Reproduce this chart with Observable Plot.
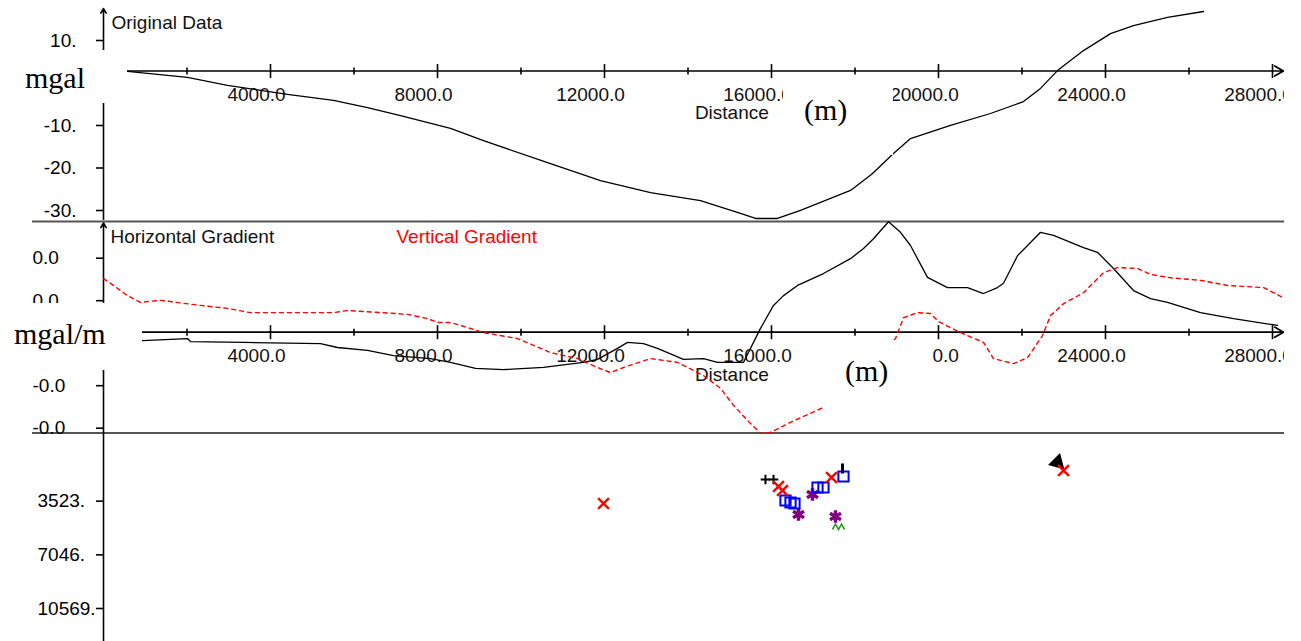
<!DOCTYPE html>
<html><head><meta charset="utf-8">
<script src="https://cdn.jsdelivr.net/npm/d3@7"></script>
<script src="https://cdn.jsdelivr.net/npm/@observablehq/plot@0.6"></script>
<style>
html,body{margin:0;padding:0;background:#fff;}
#wrap{position:relative;width:1301px;height:641px;overflow:hidden;background:#fff;}
#wrap svg{display:block;overflow:hidden !important;}
.box{position:absolute;background:#fff;font-family:"Liberation Serif","Times New Roman",serif;font-size:30px;line-height:30px;color:#000;z-index:5;}
.box span{position:absolute;white-space:nowrap;}
</style></head><body><div id="wrap"></div>
<script>
// ---------- tick values / labels ----------
const xMajorTicks = [4000, 8000, 12000, 16000, 20000, 24000, 28000];
const xMinorTicks = [2000, 6000, 10000, 14000, 18000, 22000, 26000];
const topYTicks = [10, -10, -20, -30];
const midYTicks = [0.002, 0.001, -0.001, -0.002];
const botYTicks = [3523, 7046, 10569];
const axisTitle = "Distance";

// ---------- Original Data (mgal) ----------
const origDist = [0, 575, 2012, 2970, 4407, 5509, 6323, 7114, 8311, 9102, 10707, 11904, 13102, 14299, 15257, 15617, 16144, 16695, 17892, 18400, 18922, 19329, 20287, 21245, 22036, 22443, 22850, 23473, 24120, 24671, 25485, 26347];
const origVal  = [-0.1, -0.1, -1.5, -3.4, -5.5, -6.9, -8.6, -10.5, -13.5, -16.4, -21.8, -25.8, -28.6, -30.5, -33.5, -34.7, -34.7, -32.8, -28.1, -24.3, -19.4, -15.9, -12.8, -10.0, -7.2, -4.1, 0.1, 4.8, 8.8, 10.7, 12.6, 14.0];

// ---------- Horizontal Gradient (mgal/m) ----------
const hgDist = [0, 934, 2012, 2084, 3353, 5198, 5605, 6323, 6946, 7832, 8311, 8910, 9581, 10539, 11497, 11832, 12311, 12551, 12934, 13269, 13892, 14371, 14706, 15329, 15497, 15737, 16048, 16288, 16623, 17245, 17892, 18204, 18443, 18802, 19090, 19329, 19736, 20215, 20694, 21078, 21413, 21557, 21892, 22204, 22443, 22754, 23473, 23808, 24192, 24671, 25078, 25485, 26275, 27066, 28120];
const hgVal  = [-0.00020, -0.00020, -0.00015, -0.00022, -0.00024, -0.00027, -0.00036, -0.00043, -0.00055, -0.00062, -0.00071, -0.00085, -0.00088, -0.00083, -0.00071, -0.00064, -0.00038, -0.00024, -0.00027, -0.00038, -0.00064, -0.00062, -0.00071, -0.00071, -0.00038, 0.00009, 0.00063, 0.00086, 0.00110, 0.00138, 0.00173, 0.00197, 0.00220, 0.00260, 0.00235, 0.00204, 0.00129, 0.00105, 0.00105, 0.00091, 0.00105, 0.00115, 0.00180, 0.00211, 0.00235, 0.00228, 0.00199, 0.00188, 0.00150, 0.00098, 0.00079, 0.00070, 0.00046, 0.00032, 0.00016];

// ---------- Vertical Gradient (mgal/m) ----------
const vgDist = [0, 240, 575, 886, 1054, 1365, 2323, 2970, 3521, 5509, 5844, 7281, 7760, 8000, 8311, 8718, 9102, 9916, 10707, 11353, 11832, 12144, 12455, 13102, 13748, 14371, 14778, 15090, 15497, 15737, 15976, 16455, 17245, 18970, 19162, 19497, 19808, 20000, 20527, 21078, 21317, 21796, 22132, 22491, 22682, 22994, 23473, 23952, 24287, 24766, 25078, 25557, 26275, 26922, 27784, 28239];
const vgVal  = [0.00126, 0.00110, 0.00086, 0.00070, 0.00072, 0.00075, 0.00063, 0.00056, 0.00046, 0.00046, 0.00051, 0.00042, 0.00032, 0.00023, 0.00023, 0.00011, -0.00001, -0.00015, -0.00048, -0.00062, -0.00083, -0.00095, -0.00083, -0.00062, -0.00071, -0.00102, -0.00132, -0.00172, -0.00215, -0.00238, -0.00236, -0.00212, -0.00177, -0.00015, 0.00034, 0.00046, 0.00044, 0.00025, -0.00001, -0.00024, -0.00062, -0.00074, -0.00060, -0.00008, 0.00039, 0.00067, 0.00093, 0.00140, 0.00152, 0.00150, 0.00136, 0.00128, 0.00122, 0.00110, 0.00105, 0.00082];

// ---------- Solutions (distance m, depth m) ----------
const solDist  = [11976, 15856, 16048, 16168, 16263, 16335, 16455, 16551, 16647, 16982, 17102, 17245, 17437, 17724, 17700, 17533, 17605, 22850, 22994];
const solDepth = [4529, 2954, 2954, 3413, 3676, 4332, 4464, 4529, 5251, 3938, 3479, 3479, 2823, 2757, 2232, 5382, 6039, 1838, 2363];
const solKind  = ["times", "plus", "plus", "times", "times", "square", "square", "square", "asterisk", "asterisk", "square", "square", "times", "square", "bar", "asterisk", "chevron", "blob", "times"];

// ---------- helpers ----------
const W = 1284;
const font = "'Liberation Sans', Arial, Helvetica, sans-serif";
const plotStyle = {fontFamily: font, fontSize: "19px", color: "#000", background: "white", overflow: "hidden"};
const xScale = {domain: [0, 28000], range: [103, 1272], axis: null};
const xAxisEnd = 28263;
const vTick = {draw(ctx, size) { const h = Math.sqrt(size / Math.PI); ctx.moveTo(0, -h); ctx.lineTo(0, h); }};
const chevron = {draw(ctx, size) { const h = Math.sqrt(size / Math.PI); ctx.moveTo(-h, h*0.5); ctx.lineTo(-h*0.5, -h*0.4); ctx.lineTo(0, h*0.5); ctx.lineTo(h*0.5, -h*0.4); ctx.lineTo(h, h*0.5); }};
const rows = (xs, ys) => xs.map((x, i) => ({x, y: ys[i]}));

function xAxisMarks(titleDy) {
  return [
    Plot.arrow([0], {x1: () => 0, y1: () => 0, x2: () => xAxisEnd, y2: () => 0, stroke: "#000", strokeWidth: 1.7, headLength: 9}),
    Plot.dot(xMajorTicks, {x: d => d, y: () => 0, symbol: vTick, r: 7, fill: "none", stroke: "#000", strokeWidth: 1.6}),
    Plot.dot(xMinorTicks, {x: d => d, y: () => 0, symbol: vTick, r: 3.5, fill: "none", stroke: "#000", strokeWidth: 1.6}),
    Plot.text(xMajorTicks, {x: d => d, y: () => 0, text: d => d.toFixed(1), dx: -14, dy: 24, fill: "#111"}),
    Plot.text([axisTitle], {x: () => 15050, y: () => 0, dy: titleDy, fill: "#111"})
  ];
}

// ---------- top panel ----------
const topPlot = Plot.plot({
  width: W, height: 220, marginLeft: 103, marginRight: 12, marginTop: 0, marginBottom: 0,
  style: plotStyle,
  x: xScale,
  y: {domain: [10, -30], range: [28, 198], axis: null},
  marks: [
    Plot.arrow([0], {x1: () => 0, y1: () => -36, x2: () => 0, y2: () => 14.7, stroke: "#000", strokeWidth: 1.6, headLength: 5}),
    Plot.axisY(topYTicks, {anchor: "left", tickSize: 7, tickPadding: 20, textAnchor: "end", dy: 12, strokeWidth: 1.6, tickFormat: d => d.toFixed(0) + ".", label: null}),
    ...xAxisMarks(42),
    Plot.line(rows(origDist, origVal), {x: "x", y: "y", stroke: "#000", strokeWidth: 1.3}),
    Plot.text(["Original Data"], {frameAnchor: "top-left", dx: 8, dy: 15, fill: "#111"})
  ]
});

// ---------- middle panel ----------
const midPlot = Plot.plot({
  width: W, height: 214, marginLeft: 103, marginRight: 12, marginTop: 0, marginBottom: 0,
  style: plotStyle,
  x: xScale,
  y: {domain: [0.002, -0.002], range: [26.7, 196.7], axis: null},
  marks: [
    Plot.ruleY([0.002605, -0.002372], {x1: () => -1700, x2: () => 28400, stroke: "#555", strokeWidth: 2}),
    Plot.arrow([0], {x1: () => 0, y1: () => -0.0025, x2: () => 0, y2: () => 0.00257, stroke: "#000", strokeWidth: 1.6, headLength: 5}),
    Plot.axisY(midYTicks, {anchor: "left", tickSize: 7, tickPadding: 64, textAnchor: "start", dy: 11, strokeWidth: 1.6, tickFormat: d => d.toFixed(1), label: null}),
    ...xAxisMarks(43),
    Plot.line(rows(hgDist, hgVal), {x: "x", y: "y", stroke: "#000", strokeWidth: 1.3}),
    Plot.line(rows(vgDist, vgVal), {x: "x", y: "y", stroke: "#ff0000", strokeWidth: 1.4, strokeDasharray: "4,4"}),
    Plot.text(["Horizontal Gradient"], {frameAnchor: "top-left", dx: 7, dy: 9, fill: "#111"}),
    Plot.text(["Vertical Gradient"], {frameAnchor: "top-left", dx: 293, dy: 9, fill: "#ff0000"})
  ]
});

// ---------- bottom panel ----------
const sol = solDist.map((x, i) => ({x, y: solDepth[i], k: solKind[i]}));
const pick = k => sol.filter(d => d.k === k);
const botPlot = Plot.plot({
  width: W, height: 207, marginLeft: 103, marginRight: 12, marginTop: 0, marginBottom: 0,
  style: plotStyle,
  x: xScale,
  y: {domain: [0, 10569], range: [0, 161], axis: null},
  marks: [
    Plot.ruleX([0], {y1: () => 0, y2: () => 14000, stroke: "#000", strokeWidth: 1.6}),
    Plot.axisY(botYTicks, {anchor: "left", tickSize: 7, tickPadding: 59, textAnchor: "start", dy: 13, strokeWidth: 1.6, tickFormat: d => d.toFixed(0) + ".", label: null}),
    Plot.dot(pick("asterisk"), {x: "x", y: "y", symbol: "asterisk", r: 6, stroke: "#800080", strokeWidth: 3.5}),
    Plot.dot(pick("chevron"), {x: "x", y: "y", symbol: chevron, r: 6, fill: "none", stroke: "#2e9a2e", strokeWidth: 1.6}),
    Plot.dot(pick("square"), {x: "x", y: "y", symbol: "square2", r: 6.5, fill: "none", stroke: "#0000ff", strokeWidth: 2}),
    Plot.dot(pick("plus"), {x: "x", y: "y", symbol: "plus", r: 3.2, stroke: "#000", strokeWidth: 2}),
    Plot.dot(pick("bar"), {x: "x", y: "y", symbol: vTick, r: 5, fill: "none", stroke: "#000", strokeWidth: 3}),
    Plot.dot(pick("blob"), {x: "x", y: "y", symbol: "triangle", r: 5, rotate: 135, fill: "#000", stroke: "#000", strokeWidth: 2}),
    Plot.dot(pick("times"), {x: "x", y: "y", symbol: "times", r: 5, stroke: "#ff0000", strokeWidth: 2.4})
  ]
});

const wrap = document.getElementById("wrap");
wrap.append(topPlot, midPlot, botPlot);

// label boxes (white-backed annotations as in the original window)
const boxes = [
  {left: 0, top: 50, w: 127, h: 53, text: "mgal", tx: 25, ty: 13},
  {left: 0, top: 303, w: 142, h: 67, text: "mgal/m", tx: 14, ty: 16},
  {left: 783, top: 80, w: 110, h: 75, text: "(m)", tx: 21, ty: 15},
  {left: 823, top: 340, w: 110, h: 70, text: "(m)", tx: 22, ty: 16}
];
for (const b of boxes) {
  const d = document.createElement("div");
  d.className = "box";
  Object.assign(d.style, {left: b.left + "px", top: b.top + "px", width: b.w + "px", height: b.h + "px"});
  const s = document.createElement("span");
  s.textContent = b.text;
  Object.assign(s.style, {left: b.tx + "px", top: b.ty + "px"});
  d.append(s);
  wrap.append(d);
}
</script></body></html>
